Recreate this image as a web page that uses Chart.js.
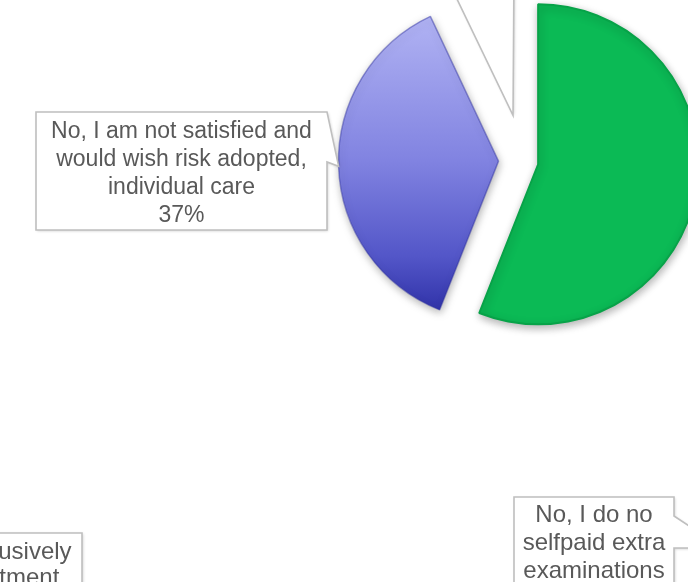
<!DOCTYPE html>
<html>
<head>
<meta charset="utf-8">
<script src="https://cdn.jsdelivr.net/npm/chart.js@4.4.1/dist/chart.umd.min.js"></script>
<style>
    html, body { margin: 0; padding: 0; background: #ffffff; overflow: hidden; }
    #satisfactionChart { display: block; }
</style>
</head>
<body>
<canvas id="satisfactionChart" width="688" height="582"></canvas>
<script>
// ============================================
// DATA
// ============================================

const categories = [
    'Yes, I am satisfied with the standard care',
    'No, I am not satisfied and would wish risk adopted, individual care',
    'No answer'
];
const shares = [56, 37, 7];

// labels of the next question (its pie sits below this one)
const extraExamLines = ['No, I do no', 'selfpaid extra', 'examinations'];
const exclusiveLines = ['Yes, I do exclusively', 'selfpaid treatment'];

// ============================================
// LOOK
// ============================================

const W = 688, H = 582;
const CENTER = { x: 518.5, y: 160.5 };
const RADIUS = 160;
const EXPLODE = 20;
const FONT = '"Liberation Sans", Arial, sans-serif';
const TEXT_COLOR = '#595959';
const BOX_BORDER = '#bfbfbf';

function blueGradient(ctx) {
    const g = ctx.createLinearGradient(0, CENTER.y - RADIUS, 0, CENTER.y + RADIUS);
    g.addColorStop(0, '#b6b8f7');
    g.addColorStop(0.15, '#a6a8ef');
    g.addColorStop(0.5, '#8183e1');
    g.addColorStop(0.8, '#5356c8');
    g.addColorStop(1, '#2a2ca3');
    return g;
}

// ============================================
// PLUGINS
// ============================================

// pulls every slice out from the centre and gives it a soft drop shadow
const explodePlugin = {
    id: 'explode',
    beforeDatasetDraw(chart, args) {
        args.meta.data.forEach(arc => {
            const mid = (arc.startAngle + arc.endAngle) / 2;
            arc.x += Math.cos(mid) * EXPLODE;
            arc.y += Math.sin(mid) * EXPLODE;
        });
        const c = chart.ctx;
        c.save();
        c.shadowColor = 'rgba(0, 0, 0, 0.3)';
        c.shadowBlur = 8;
        c.shadowOffsetX = 1;
        c.shadowOffsetY = 3;
    },
    afterDatasetDraw(chart, args) {
        chart.ctx.restore();
        args.meta.data.forEach(arc => {
            const mid = (arc.startAngle + arc.endAngle) / 2;
            arc.x -= Math.cos(mid) * EXPLODE;
            arc.y -= Math.sin(mid) * EXPLODE;
        });
    }
};

function wrapText(c, text, maxWidth) {
    const words = text.split(' ');
    const lines = [];
    let line = '';
    words.forEach(w => {
        const test = line ? line + ' ' + w : w;
        if (line && c.measureText(test).width > maxWidth) {
            lines.push(line);
            line = w;
        } else {
            line = test;
        }
    });
    if (line) lines.push(line);
    return lines;
}

// point inside an exploded slice: frac of the radius out from its tip,
// along = position across the slice's angle (0.5 = middle)
function sliceTip(chart, index, frac, along) {
    const arc = chart.getDatasetMeta(0).data[index];
    const mid = (arc.startAngle + arc.endAngle) / 2;
    const ang = arc.startAngle + (arc.endAngle - arc.startAngle) * along;
    const ax = arc.x + Math.cos(mid) * EXPLODE;
    const ay = arc.y + Math.sin(mid) * EXPLODE;
    const d = arc.outerRadius * frac;
    return { x: ax + Math.cos(ang) * d, y: ay + Math.sin(ang) * d };
}

const callouts = [
    { slice: 1, tipAt: 1.0, along: 0.5, box: { x: 36, y: 112, w: 291, h: 118 },
      pointer: { side: 'right', from: 112, to: 162 }, size: 23, lineHeight: 28, first: 20, wrap: 280 },
    { slice: 2, tipAt: 0.16, along: 0.9, box: { x: 380, y: -130, w: 200, h: 100 },
      pointer: { side: 'bottom', from: 443, to: 514 }, size: 23, lineHeight: 28, first: 20, wrap: 180 },
    { lines: extraExamLines, box: { x: 514, y: 497, w: 160, h: 120 },
      pointer: { side: 'right', from: 516, to: 548, tip: { x: 722, y: 548 } }, size: 24, lineHeight: 28, first: 18 },
    { lines: exclusiveLines, box: { x: -154, y: 533, w: 236, h: 110 }, size: 24, lineHeight: 26, first: 19 }
];

function calloutPath(c, box, ptr, tip) {
    const { x, y, w, h } = box;
    c.beginPath();
    c.moveTo(x, y);
    c.lineTo(x + w, y);
    if (ptr && ptr.side === 'right') {
        c.lineTo(x + w, ptr.from);
        c.lineTo(tip.x, tip.y);
        c.lineTo(x + w, ptr.to);
    }
    c.lineTo(x + w, y + h);
    if (ptr && ptr.side === 'bottom') {
        c.lineTo(ptr.to, y + h);
        c.lineTo(tip.x, tip.y);
        c.lineTo(ptr.from, y + h);
    }
    c.lineTo(x, y + h);
    c.closePath();
}

const calloutPlugin = {
    id: 'callouts',
    afterDraw(chart) {
        const c = chart.ctx;
        const data = chart.data.datasets[0].data;
        const total = data.reduce((a, b) => a + b, 0);

        callouts.forEach(co => {
            c.save();
            c.font = co.size + 'px ' + FONT;
            let lines = co.lines;
            let tip = co.pointer && co.pointer.tip;
            if (co.slice !== undefined) {
                const pct = Math.round(data[co.slice] / total * 100) + '%';
                lines = wrapText(c, chart.data.labels[co.slice], co.wrap).concat(pct);
                tip = sliceTip(chart, co.slice, co.tipAt, co.along);
            }

            calloutPath(c, co.box, co.pointer, tip);
            c.shadowColor = 'rgba(0, 0, 0, 0.2)';
            c.shadowBlur = 3;
            c.shadowOffsetX = 1;
            c.shadowOffsetY = 1;
            c.fillStyle = '#ffffff';
            c.fill();
            c.shadowColor = 'rgba(0, 0, 0, 0)';
            c.lineWidth = 1.6;
            c.strokeStyle = BOX_BORDER;
            c.stroke();

            c.fillStyle = TEXT_COLOR;
            c.textAlign = 'center';
            c.textBaseline = 'middle';
            const cx = co.box.x + co.box.w / 2;
            lines.forEach((t, i) => {
                c.fillText(t, cx, co.box.y + co.first + i * co.lineHeight);
            });
            c.restore();
        });
    }
};

// ============================================
// CHART
// ============================================

new Chart(document.getElementById('satisfactionChart'), {
    type: 'pie',
    data: {
        labels: categories,
        datasets: [{
            data: shares,
            backgroundColor: function(context) {
                if (context.dataIndex === 1) return blueGradient(context.chart.ctx);
                return ['#0bba55', '#8183e1', 'rgba(255, 255, 255, 0)'][context.dataIndex];
            },
            borderColor: ['#07a348', 'rgba(45, 47, 160, 0.45)', 'rgba(255, 255, 255, 0)'],
            borderWidth: [2, 1.5, 0],
            clip: false
        }]
    },
    options: {
        responsive: false,
        animation: false,
        events: [],
        radius: RADIUS,
        layout: {
            padding: {
                left: CENTER.x - 100,
                right: W - CENTER.x - 100,
                top: CENTER.y - 100,
                bottom: H - CENTER.y - 100
            }
        },
        plugins: {
            legend: { display: false },
            tooltip: { enabled: false }
        }
    },
    plugins: [explodePlugin, calloutPlugin]
});
</script>
</body>
</html>
